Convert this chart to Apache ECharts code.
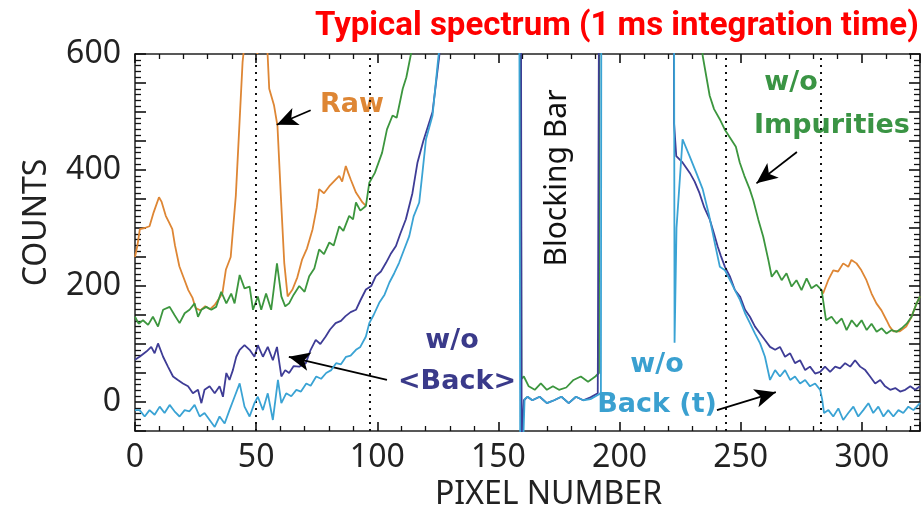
<!DOCTYPE html>
<html><head><meta charset="utf-8">
<script src="https://cdn.jsdelivr.net/npm/echarts@6/dist/echarts.min.js"></script>
<style>html,body{margin:0;padding:0;background:#fff}#c{width:922px;height:515px}</style>
</head><body><div id="c"></div>
<script>
// ---- tick labels / reference lines ----
const xTickLabels = [0, 50, 100, 150, 200, 250, 300];
const yTickLabels = [0, 200, 400, 600];
const refLines = [50, 97, 244, 283];

// ---- Raw (only where it differs from w/o Impurities) ----
const rawLeftX = [0,1,2,4,6,7.7,9.9,11,12.7,14,15.4,16.5,18.3,20,22,23.7,25,27,29,31,33,35,36.1,37.5,39.5,41.6,43,44.4,46,48,49.5,50.5,51.5,53,54.5,55.4,57.4,58.8,60.2,61.6,63,65,67,69,71,73.3,75,76,78,80.2,82,84.3,85.5,87,88,89,91.2,93.9,95.3];
const rawLeftY = [250,270,298,300,303,327,353,345,321,310,298,270,234,215,193,180,162,158,165,160,168,180,188,228,250,355,470,586,650,700,660,600,640,680,620,540,511,476,355,240,182,194,215,246,265,298,335,367,360,372,380,390,380,407,395,384,361,344,338];
const rawRightX = [283.3,284,286.1,288.2,290.2,292.3,294.4,295.7,297.8,299.8,301.9,304,306,308.1,310.2,311.5,313,315.7,318.3,320.5,322.6,324];
const rawRightY = [193,187,210,227,225,239,233,245,239,227,210,187,170,158,141,130,122,122,130,147,170,182];

// ---- w/o Impurities ----
const impX = [0,1.5,3.3,5.4,7.4,9.5,11.6,14.3,16.3,18.4,20.5,22.5,24.6,26,27.4,29.4,31.5,33.5,35.6,37.7,39.7,41.1,43.2,45.2,47.3,48.7,50.7,52.1,54.1,56.2,58.6,60.4,62,63.6,65.5,67.8,70,71.9,74,76,78,80.2,82,84.3,86,88.4,90,91.2,93,95.3,96.7,99,102,104,106.3,108,110.5,112,113.9,117,125,140,158.5,159.5,160.5,162.5,165,167.5,170,172.5,175,178,181,184,187,190,191.5,192,230,234.3,237.2,239,241.3,243.4,246,248,249.6,251.5,253.7,255.2,257.3,259.3,261.4,262.8,264.8,266.9,268.9,271,273,275.1,277.2,279.2,281.3,283.4,285.2,287.5,289.6,291.7,293.7,295.8,297.9,299.9,302,304,306.1,308.2,310.2,312.3,314.4,316.4,318.5,320.5,322.6,324];
const impY = [147,135,141,133,147,130,159,164,150,136,153,159,170,147,159,164,159,164,190,170,187,170,219,196,199,159,182,159,187,159,239,182,165,170,185,200,190,217,230,263,255,275,270,303,295,321,315,344,330,338,378,395,430,470,494,490,540,560,600,680,900,1500,2000,40,44,27,21,32,21,27,21,25,38,44,35,44,50,2000,1500,597,528,505,488,470,453,440,413,390,367,348,314,285,245,216,227,210,222,199,210,193,213,196,202,193,141,147,135,144,124,141,130,141,124,135,121,127,118,124,121,127,135,147,170,182];

// ---- w/o <Back> ----
const backAvgX = [0,1.9,4.7,6.7,8.1,9.5,11.6,13.6,15.7,17.7,19.8,21.9,23.9,26,27.4,28.7,30.8,32.9,34.9,36.3,37.7,39,40.4,41.8,43.2,45.2,47.3,49.3,50.7,52.8,54.8,56.9,58.6,60.4,62,63.6,65.5,67.8,70.5,72.5,74.6,76.5,78.7,80.5,82.8,85,86.9,89,91.2,93,95.3,97.5,99.4,101.5,103.6,105.5,107.7,109.5,111.8,114.5,116.6,119,122.8,125.6,130,158.8,159.6,160.5,162,164,167,170,173,176,179,182,185,188,191,192.5,221.5,222.5,223.4,226,229,231,233,235,237.2,239,240.5,241.8,243.5,245.6,247.6,249.7,251.8,253.8,255.9,258,260,262.1,264.2,266.2,268.3,270.4,272.4,274.5,276.6,278.6,280.7,282.8,284.8,286.9,289,291,293.1,295.2,297.2,299.3,301.4,303.4,305.5,307.6,309.6,311.7,313.8,315.8,317.9,320,322,324];
const backAvgY = [73,78,87,95,84,101,78,61,44,38,32,27,15,21,-2,21,27,15,27,9,50,38,55,78,90,98,90,78,98,78,95,72,95,44,55,50,62,61,67,90,107,100,113,125,136,140,148,155,159,175,194,200,217,225,240,255,269,290,315,360,413,450,500,597,800,2000,-80,3,9,3,9,-2,3,9,-2,9,3,8,15,2000,2000,480,424,413,395,380,360,335,315,290,268,252,233,216,193,182,159,147,130,118,107,95,90,95,78,84,67,72,55,61,49,52,61,52,61,58,67,61,72,61,55,44,32,38,27,21,24,18,21,27,21,27];

// ---- w/o Back (t) ----
const backTX = [0,1.9,4,6,8.1,10.2,12.2,14.3,16.3,18.4,20.5,22.5,24.6,26.7,28.7,30.8,32.9,34.9,37,39,41.1,43.2,45.2,47.3,49.3,50.7,52.8,54.8,56.9,59,60.4,62.4,64.5,66.6,68.5,70.7,72.5,74.8,76.8,78.9,81,83,85,87.1,89,91.2,93,95.3,96.7,98.5,100.8,103,105,107,109,111,113.2,115,117.3,118.5,120.1,122.8,125,128,158,159,160.3,160.8,162,164,167,170,173,176,179,182,185,188,191,192.3,192.8,222,222.7,223.5,226,228.9,231.6,234.3,237,239.5,241.4,243.5,245.6,247.6,249.7,251.8,253.8,255.9,258,260,262.1,264.2,266.2,268.3,270.4,272.4,274.5,276.6,278.6,280.7,282.8,283.6,284.4,286.2,288.2,290.3,292.3,294.4,296.5,298.5,300.6,302.7,304.7,306.8,308.9,310.9,313,315.1,317.1,319.2,321.3,324];
const backTY = [-14,-14,-25,-14,-22,-8,-19,-5,-16,-25,-14,-16,-5,-25,-19,-31,-43,-25,-37,-14,9,32,-8,-25,-2,9,-14,15,-31,38,-2,15,10,21,18,32,28,44,40,50,55,67,65,78,80,90,95,113,136,150,171,185,206,222,240,262,286,320,344,390,453,494,586,700,2000,-80,-60,5,9,3,9,-2,3,9,-2,9,3,5,12,15,2000,2000,102,300,453,424,396,367,321,270,233,227,210,193,176,153,136,118,101,78,38,55,44,55,38,44,32,38,27,32,21,5,-19,-14,-25,-11,-31,-19,-8,-25,-14,-2,-19,-8,-25,-14,-25,-14,-19,-8,-14,-2];

const zip = (xs, ys) => xs.map((x, i) => [x, ys[i]]);
const rawData = zip(rawLeftX, rawLeftY).concat([[96, null]], zip(rawRightX, rawRightY));

const C = { raw: '#DE8634', imp: '#3C963E', avg: '#3E3C96', bt: '#3AA3D4' };
const tickFont = { fontFamily: 'Noto Sans', fontSize: 32, color: '#222' };
const annFont = 'DejaVu Sans';

function arrow(x1, y1, x2, y2) {
  return [
    { coord: [x1, y1], symbol: 'none' },
    { coord: [x2, y2], symbol: 'arrow', symbolSize: [14, 21] }
  ];
}

const chart = echarts.init(document.getElementById('c'), null, { renderer: 'canvas' });
const lineBase = { type: 'line', showSymbol: false, symbol: 'none', animation: false, connectNulls: false, clip: true, silent: true };
// onZeroAxisIndex points at a hidden helper axis that does not cross zero, so the frame axes stay at the grid edges
const frameLine = (helper) => ({ show: true, onZero: true, onZeroAxisIndex: helper, lineStyle: { color: '#222', width: 1.5 } });
const majTick = (len) => ({ show: true, inside: true, length: len, lineStyle: { color: '#111', width: 1.6 } });
const minTick = (len) => ({ show: true, splitNumber: 5, length: len, lineStyle: { color: '#111', width: 1.3 } });

chart.setOption({
  backgroundColor: '#fff',
  animation: false,
  title: {
    text: 'Typical spectrum (1 ms integration time)',
    left: 310, top: 5,
    textStyle: { fontFamily: 'Roboto', fontWeight: 'bold', fontSize: 33, color: '#FF0000' }
  },
  grid: { left: 135, right: 2, top: 54, bottom: 84, outerBoundsMode: 'none' },
  xAxis: [
    {
      type: 'value', position: 'bottom', min: 0, max: 324, interval: 50,
      name: 'PIXEL NUMBER', nameLocation: 'middle', nameGap: 46,
      nameTextStyle: { fontFamily: 'Noto Sans', fontSize: 32, color: '#222', padding: [0, 0, 0, 42] },
      axisLine: frameLine(2), axisTick: majTick(9), minorTick: minTick(5),
      splitLine: { show: false }, minorSplitLine: { show: false },
      axisLabel: Object.assign({ customValues: xTickLabels, margin: 11 }, tickFont)
    },
    {
      type: 'value', position: 'top', min: 0, max: 324, interval: 50,
      axisLine: frameLine(2), axisTick: majTick(9), minorTick: minTick(5),
      splitLine: { show: false }, axisLabel: { show: false }
    },
    { type: 'value', min: 1, max: 2, show: false }
  ],
  yAxis: [
    {
      type: 'value', position: 'left', min: -50, max: 600, interval: 50,
      name: 'COUNTS', nameLocation: 'middle', nameGap: 82, nameRotate: 90,
      nameTextStyle: { fontFamily: 'Noto Sans', fontSize: 32, color: '#222', padding: [0, 0, 0, 40] },
      axisLine: frameLine(2), axisTick: majTick(11), minorTick: minTick(6),
      splitLine: { show: false },
      axisLabel: Object.assign({ customValues: yTickLabels, margin: 14 }, tickFont)
    },
    {
      type: 'value', position: 'right', min: -50, max: 600, interval: 50,
      axisLine: frameLine(2), axisTick: majTick(11), minorTick: minTick(6),
      splitLine: { show: false }, axisLabel: { show: false }
    },
    { type: 'value', min: 1, max: 2, show: false }
  ],
  series: [
    Object.assign({}, lineBase, {
      name: 'Raw', data: rawData, z: 2,
      lineStyle: { color: C.raw, width: 1.8 }, itemStyle: { color: C.raw },
      markLine: {
        silent: true, symbol: 'none', label: { show: false }, animation: false,
        lineStyle: { color: '#111', type: [2, 5], width: 2 },
        data: refLines.map(v => ({ xAxis: v }))
      }
    }),
    Object.assign({}, lineBase, {
      name: 'w/o Impurities', data: zip(impX, impY), z: 3,
      lineStyle: { color: C.imp, width: 1.8 }, itemStyle: { color: C.imp },
      markLine: {
        silent: true, animation: false, label: { show: false },
        lineStyle: { color: '#000', type: 'solid', width: 1.8 },
        data: [
          arrow(72.5, 503, 58.5, 478),
          arrow(273.2, 431, 256.5, 377),
          arrow(104, 38, 63.5, 78),
          arrow(240.2, -14, 264.5, 17)
        ]
      }
    }),
    Object.assign({}, lineBase, {
      name: 'w/o <Back>', data: zip(backAvgX, backAvgY), z: 4,
      lineStyle: { color: C.avg, width: 1.8 }, itemStyle: { color: C.avg }
    }),
    Object.assign({}, lineBase, {
      name: 'w/o Back (t)', data: zip(backTX, backTY), z: 5,
      lineStyle: { color: C.bt, width: 1.8 }, itemStyle: { color: C.bt }
    })
  ],
  graphic: [
    { type: 'text', x: 352, y: 105, style: { text: 'Raw', fill: '#DE8634', font: 'bold 27px "' + annFont + '"', align: 'center', verticalAlign: 'middle' } },
    { type: 'text', x: 791, y: 83, style: { text: 'w/o', fill: '#3A9444', font: 'bold 27px "' + annFont + '"', align: 'center', verticalAlign: 'middle' } },
    { type: 'text', x: 832, y: 126, style: { text: 'Impurities', fill: '#3A9444', font: 'bold 27px "' + annFont + '"', align: 'center', verticalAlign: 'middle' } },
    { type: 'text', x: 452, y: 341, style: { text: 'w/o', fill: '#3A3A8A', font: 'bold 27px "' + annFont + '"', align: 'center', verticalAlign: 'middle' } },
    { type: 'text', x: 457, y: 382, style: { text: '<Back>', fill: '#3A3A8A', font: 'bold 27px "' + annFont + '"', align: 'center', verticalAlign: 'middle' } },
    { type: 'text', x: 657, y: 365, style: { text: 'w/o', fill: '#3AA0D0', font: 'bold 27px "' + annFont + '"', align: 'center', verticalAlign: 'middle' } },
    { type: 'text', x: 657, y: 405, style: { text: 'Back (t)', fill: '#3AA0D0', font: 'bold 27px "' + annFont + '"', align: 'center', verticalAlign: 'middle' } },
    { type: 'text', x: 557, y: 178, rotation: Math.PI / 2, style: { text: 'Blocking Bar', fill: '#111', font: '30px "Noto Sans"', align: 'center', verticalAlign: 'middle' } }
  ]
});
</script></body></html>
